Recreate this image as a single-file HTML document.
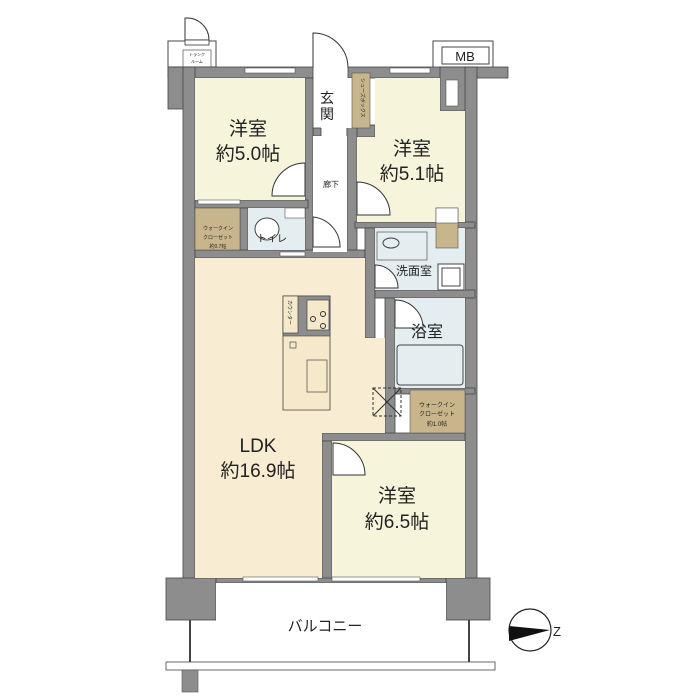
<!DOCTYPE html><html><head><meta charset="utf-8"><style>body{margin:0;background:#fff}svg{display:block}text{font-family:"Liberation Sans","Noto Sans CJK JP",sans-serif;fill:#222}</style></head><body>
<svg width="700" height="700" viewBox="0 0 700 700" xmlns="http://www.w3.org/2000/svg">
<rect width="700" height="700" fill="#fff"/>
<rect x="168" y="41" width="48" height="26" fill="#fff" stroke="#444" stroke-width="1"/>
<rect x="183" y="50" width="28" height="17" fill="#fff" stroke="#666" stroke-width="0.8"/>
<text x="197" y="56" font-size="4" text-anchor="middle">トランク</text><text x="197" y="63" font-size="4" text-anchor="middle">ルーム</text>
<path d="M185 40 V18 H187 A22 22 0 0 1 209 40 Z" fill="#fff" stroke="#333" stroke-width="1"/>
<rect x="185" y="40" width="24" height="5" fill="#fff" stroke="#333" stroke-width="0.8"/>
<rect x="433" y="41" width="60" height="27" fill="#fff" stroke="#444"/>
<rect x="442" y="47" width="47" height="17" fill="#fff" stroke="#444"/>
<text x="465" y="61" font-size="13" text-anchor="middle">MB</text>
<path d="M313 68 V33 A35 35 0 0 1 348 68" fill="#fff" stroke="#333"/>
<g fill="#8d8d8d" stroke="#444" stroke-width="0.8">
<rect x="168" y="67" width="145" height="11"/>
<rect x="168" y="67" width="18" height="42"/>
<rect x="183" y="67" width="12" height="513"/>
<rect x="348" y="67" width="160" height="11"/>
<rect x="440" y="67" width="32" height="44"/>
<rect x="465" y="67" width="12" height="513"/>
<rect x="313" y="128" width="8" height="8"/>
<rect x="347" y="125" width="28" height="12"/>
<rect x="347" y="125" width="10" height="130"/>
<rect x="305" y="78" width="8" height="180"/>
<rect x="195" y="200" width="113" height="8"/>
<rect x="240" y="208" width="8" height="48"/>
<rect x="195" y="250" width="170" height="8"/>
<rect x="355" y="222" width="120" height="6"/>
<rect x="365" y="228" width="10" height="110"/>
<rect x="375" y="290" width="100" height="8"/>
<rect x="385" y="298" width="10" height="140"/>
<rect x="395" y="388" width="80" height="6"/>
<rect x="322" y="435" width="10" height="145"/>
<rect x="322" y="433" width="143" height="8"/>
<rect x="166" y="578" width="50" height="42"/>
<rect x="446" y="578" width="44" height="42"/>
<rect x="216" y="578" width="230" height="5"/>
</g>
<rect x="446" y="80" width="12" height="26" fill="#fff" stroke="#555" stroke-width="0.6"/>
<rect x="195" y="78" width="110" height="122" fill="#f6f5dc"/>
<rect x="321" y="78" width="31" height="50" fill="#fff"/>
<rect x="352" y="73" width="18" height="55" fill="#c9b58c" stroke="#555" stroke-width="0.6"/>
<text font-size="5" transform="translate(361 78) rotate(90)">シューズボックス</text>
<rect x="313" y="136" width="34" height="116" fill="#fff"/>
<path d="M375 78 H440 V111 H465 V222 H357 V137 H375 Z" fill="#f6f5dc"/>
<rect x="195" y="208" width="45" height="42" fill="#c9b58c" stroke="#555" stroke-width="0.6"/>
<rect x="248" y="208" width="57" height="42" fill="#e4eef0"/>
<rect x="375" y="228" width="90" height="62" fill="#e4eef0"/>
<rect x="395" y="298" width="70" height="90" fill="#e4eef0"/>
<path d="M195 258 H365 V338 H385 V433 H322 V578 H195 Z" fill="#f8ecd2"/>
<rect x="410" y="390" width="55" height="43" fill="#c9b58c" stroke="#555" stroke-width="0.6"/>
<rect x="332" y="441" width="133" height="137" fill="#f6f5dc"/>
<rect x="216" y="583" width="230" height="80" fill="#fff"/>
<rect x="436" y="208" width="22" height="40" fill="#c9b58c" stroke="#555" stroke-width="0.6"/>
<rect x="436" y="208" width="22" height="15" fill="#fff" stroke="#555" stroke-width="0.6"/>
<rect x="377" y="232" width="50" height="28" fill="#e4eef0" stroke="#555" stroke-width="0.7"/>
<ellipse cx="391" cy="243" rx="8" ry="5" fill="none" stroke="#444"/>
<rect x="438" y="264" width="26" height="26" fill="#fff" stroke="#444"/>
<rect x="442" y="268" width="18" height="18" fill="#fff" stroke="#444"/>
<rect x="397" y="345" width="66" height="40" rx="3" fill="#e4eef0" stroke="#444"/>
<ellipse cx="267" cy="229" rx="12" ry="11" fill="#fff" stroke="#444"/>
<rect x="285" y="208" width="20" height="10" fill="#fff" stroke="#555" stroke-width="0.6"/>
<path d="M283 296 H330 V410 H283 Z" fill="#f6e9cb" stroke="#444" stroke-width="0.8"/>
<rect x="283" y="296" width="47" height="40" fill="#8d8d8d" stroke="#444" stroke-width="0.6"/>
<rect x="307" y="300" width="22" height="30" fill="#f6e9cb" stroke="#444" stroke-width="0.7"/>
<circle cx="313" cy="319" r="2.5" fill="none" stroke="#333"/><circle cx="323" cy="314" r="2.5" fill="none" stroke="#333"/><circle cx="323" cy="326" r="2.5" fill="none" stroke="#333"/>
<rect x="283" y="296" width="15" height="37" fill="#f6e9cb" stroke="#444" stroke-width="0.7"/>
<text font-size="5" transform="translate(288 300) rotate(90)">カウンター</text>
<rect x="290" y="342" width="6" height="6" fill="#f6e9cb" stroke="#333" stroke-width="0.6"/>
<rect x="307" y="360" width="20" height="32" fill="#f6e9cb" stroke="#444" stroke-width="0.7"/>
<rect x="373" y="388" width="28" height="28" fill="none" stroke="#333" stroke-dasharray="3 2"/>
<path d="M373 388 L401 416 M401 388 L373 416" stroke="#333"/>
<g fill="#fff" stroke="#333" stroke-width="1">
<path d="M305 163 A33 33 0 0 0 272 196 H305 Z"/>
<path d="M357 182 A33 33 0 0 1 390 215 H357 Z"/>
<path d="M313 217 A30 30 0 0 1 340 247 H313 Z"/>
<path d="M375 265 A23 23 0 0 1 398 288 H375 Z"/>
<path d="M395 300 A28 28 0 0 1 423 328 H395 Z"/>
<path d="M333 443 A32 32 0 0 1 365 475 H333 Z"/>
</g>
<g fill="#fff" stroke="#555" stroke-width="0.6">
<rect x="245" y="68" width="50" height="5"/><rect x="390" y="68" width="40" height="5"/>
<rect x="243" y="577" width="75" height="4"/><rect x="332" y="577" width="88" height="4"/>
<rect x="198" y="200" width="42" height="4"/><rect x="280" y="252" width="25" height="4"/>
</g>
<rect x="166" y="662" width="329" height="8" fill="#fff" stroke="#444" stroke-width="0.8"/>
<line x1="190" y1="620" x2="190" y2="662" stroke="#444" stroke-width="2"/>
<line x1="469" y1="620" x2="469" y2="662" stroke="#444" stroke-width="2"/>
<rect x="182" y="670" width="16" height="22" fill="#8d8d8d" stroke="#555" stroke-width="0.6"/>
<circle cx="530" cy="630" r="21" fill="#fff" stroke="#222" stroke-width="1.2"/>
<path d="M509 626 L550 630 L509 641 Z" fill="#111"/>
<text x="553" y="636" font-size="13">Z</text>
<g text-anchor="middle">
<text x="248" y="135" font-size="19">洋室</text><text x="248" y="160" font-size="19">約5.0帖</text>
<text x="412" y="155" font-size="19">洋室</text><text x="412" y="180" font-size="19">約5.1帖</text>
<text x="258" y="452" font-size="19">LDK</text><text x="258" y="477" font-size="19">約16.9帖</text>
<text x="397" y="502" font-size="19">洋室</text><text x="397" y="528" font-size="19">約6.5帖</text>
<text x="325" y="631" font-size="15">バルコニー</text>
<text x="427" y="337" font-size="16">浴室</text>
<text x="414" y="275" font-size="12">洗面室</text>
<text x="327" y="103" font-size="14">玄</text><text x="327" y="119" font-size="14">関</text>
<text x="331" y="187" font-size="8">廊下</text>
<text x="272" y="242" font-size="10">トイレ</text>
<text x="218" y="230" font-size="5">ウォークイン</text><text x="218" y="239" font-size="5">クローゼット</text><text x="218" y="248" font-size="5">約0.7帖</text>
<text x="437" y="407" font-size="6">ウォークイン</text><text x="437" y="416" font-size="6">クローゼット</text><text x="437" y="426" font-size="6">約1.0帖</text>
</g>
</svg></body></html>
